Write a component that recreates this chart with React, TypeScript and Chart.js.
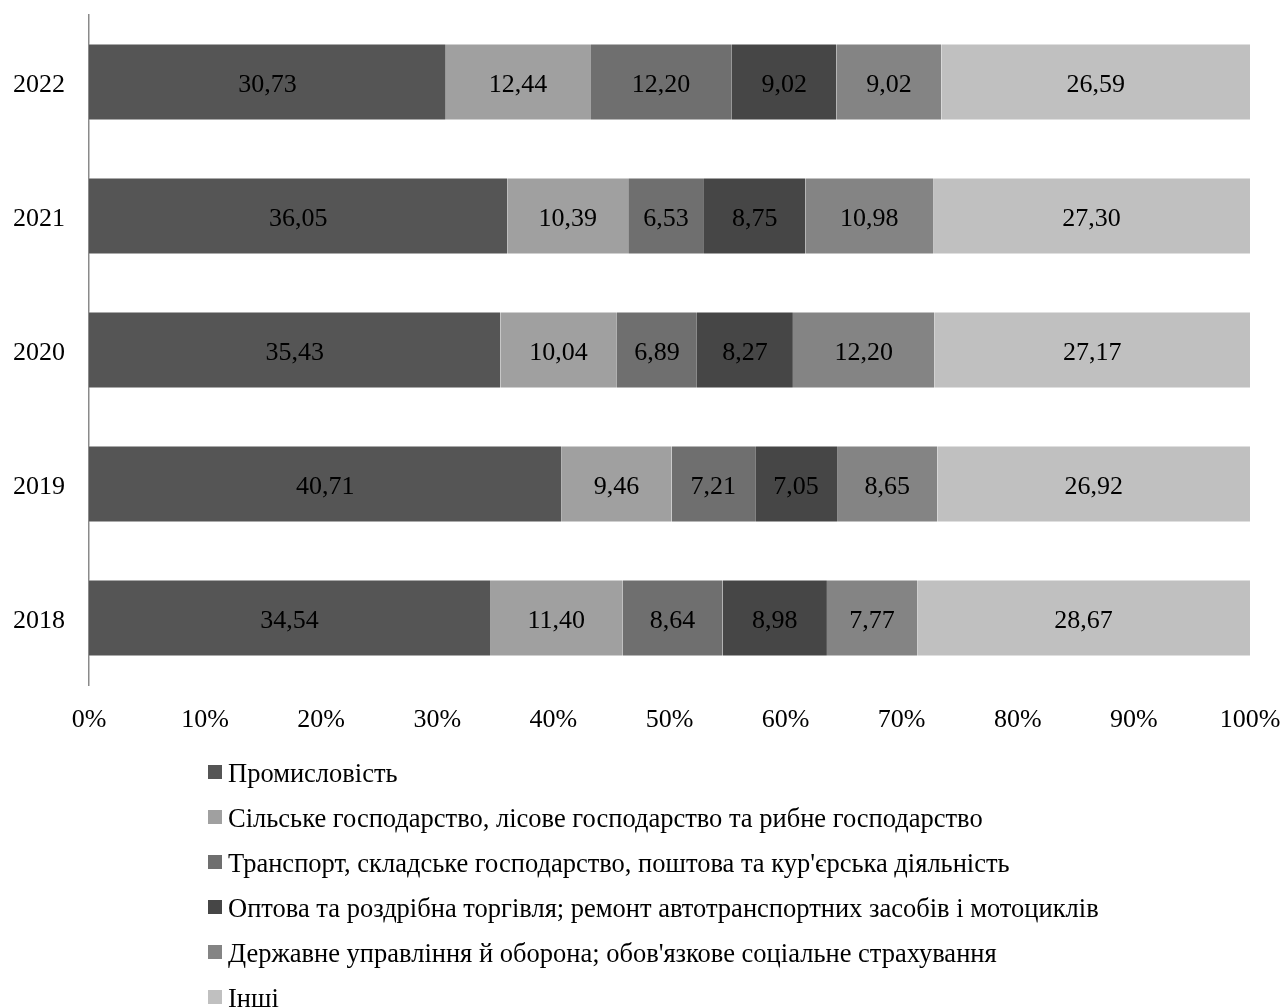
import React, { useEffect, useRef } from "react";
import { Chart, registerables } from "chart.js";

Chart.register(...registerables);

const years = ["2018", "2019", "2020", "2021", "2022"];
const seriesNames = [
  "Промисловість",
  "Сільське господарство, лісове господарство та рибне господарство",
  "Транспорт, складське господарство, поштова та кур'єрська діяльність",
  "Оптова та роздрібна торгівля; ремонт автотранспортних засобів і мотоциклів",
  "Державне управління й оборона; обов'язкове соціальне страхування",
  "Інші",
];
const industry = [34.54, 40.71, 35.43, 36.05, 30.73];
const agriculture = [11.4, 9.46, 10.04, 10.39, 12.44];
const transport = [8.64, 7.21, 6.89, 6.53, 12.2];
const trade = [8.98, 7.05, 8.27, 8.75, 9.02];
const government = [7.77, 8.65, 12.2, 10.98, 9.02];
const others = [28.67, 26.92, 27.17, 27.3, 26.59];
const xTicks = [0, 10, 20, 30, 40, 50, 60, 70, 80, 90, 100];

const seriesValues = [industry, agriculture, transport, trade, government, others];
const colors = ["#555555", "#a0a0a0", "#6f6f6f", "#464646", "#848484", "#c0c0c0"];

const FONT = "'Liberation Serif', 'Times New Roman', serif";

const labelPlugin = {
  id: "valueLabels",
  afterDatasetsDraw(chart: any) {
    const ctx = chart.ctx;
    ctx.save();
    ctx.font = `26px ${FONT}`;
    ctx.fillStyle = "#000";
    ctx.textAlign = "center";
    ctx.textBaseline = "middle";
    chart.data.datasets.forEach((ds: any, di: number) => {
      const meta = chart.getDatasetMeta(di);
      meta.data.forEach((bar: any, i: number) => {
        const v = ds.data[i];
        const cx = (bar.x + bar.base) / 2;
        ctx.fillText(v.toFixed(2).replace(".", ","), cx, bar.y + 3);
      });
    });
    ctx.restore();
  },
};

const legendPlugin = {
  id: "verticalLegend",
  afterDraw(chart: any) {
    const ctx = chart.ctx;
    ctx.save();
    ctx.font = `26.5px ${FONT}`;
    ctx.textAlign = "left";
    ctx.textBaseline = "middle";
    chart.data.datasets.forEach((ds: any, i: number) => {
      const cy = 772 + i * 45;
      ctx.fillStyle = ds.backgroundColor;
      ctx.fillRect(208, cy - 7, 14, 14);
      ctx.fillStyle = "#000";
      ctx.fillText(ds.label, 228, cy + 3);
    });
    ctx.restore();
  },
};

export default function App() {
  const ref = useRef<HTMLCanvasElement>(null);
  useEffect(() => {
    if (!ref.current) return;
    const chart = new Chart(ref.current, {
      type: "bar",
      data: {
        labels: years,
        datasets: seriesNames.map((name, i) => ({
          label: name,
          data: seriesValues[i],
          backgroundColor: colors[i],
          borderColor: "rgba(255,255,255,0.55)",
          borderWidth: { top: 1, bottom: 1, left: 0, right: 0 },
          borderSkipped: false,
          categoryPercentage: 1,
          barPercentage: 0.575,
        })),
      },
      options: {
        indexAxis: "y",
        animation: false,
        responsive: false,
        maintainAspectRatio: false,
        layout: { padding: { top: 15, right: 34, left: 0, bottom: 0 } },
        plugins: {
          legend: { display: false },
          tooltip: { enabled: false },
        },
        scales: {
          x: {
            stacked: true,
            min: 0,
            max: 100,
            afterBuildTicks: (scale: any) => {
              scale.ticks = xTicks.map((v) => ({ value: v }));
            },
            afterFit: (scale: any) => {
              scale.height = 323;
              scale.paddingLeft = 0;
              scale.paddingRight = 0;
              scale.paddingTop = 0;
              scale.paddingBottom = 0;
            },
            grid: { display: false, drawTicks: false },
            border: { display: false },
            ticks: {
              padding: 20,
              color: "#000",
              font: { family: FONT, size: 26 },
              callback: (v: any) => `${v}%`,
              maxRotation: 0,
            },
          },
          y: {
            stacked: true,
            reverse: true,
            afterFit: (scale: any) => {
              scale.width = 89;
              scale.paddingLeft = 0;
              scale.paddingRight = 0;
              scale.paddingTop = 0;
              scale.paddingBottom = 0;
            },
            grid: { display: false, drawTicks: false },
            border: { display: true, color: "#8a8a8a", width: 1.5 },
            ticks: {
              padding: 24,
              labelOffset: 3,
              color: "#000",
              font: { family: FONT, size: 26 },
            },
          },
        },
      },
      plugins: [labelPlugin, legendPlugin],
    } as any);
    return () => chart.destroy();
  }, []);
  return (
    <div style={{ position: "fixed", left: 0, top: 0, width: 1284, height: 1008, background: "#fff" }}>
      <canvas ref={ref} width={1284} height={1008} style={{ width: 1284, height: 1008, display: "block" }} />
    </div>
  );
}
